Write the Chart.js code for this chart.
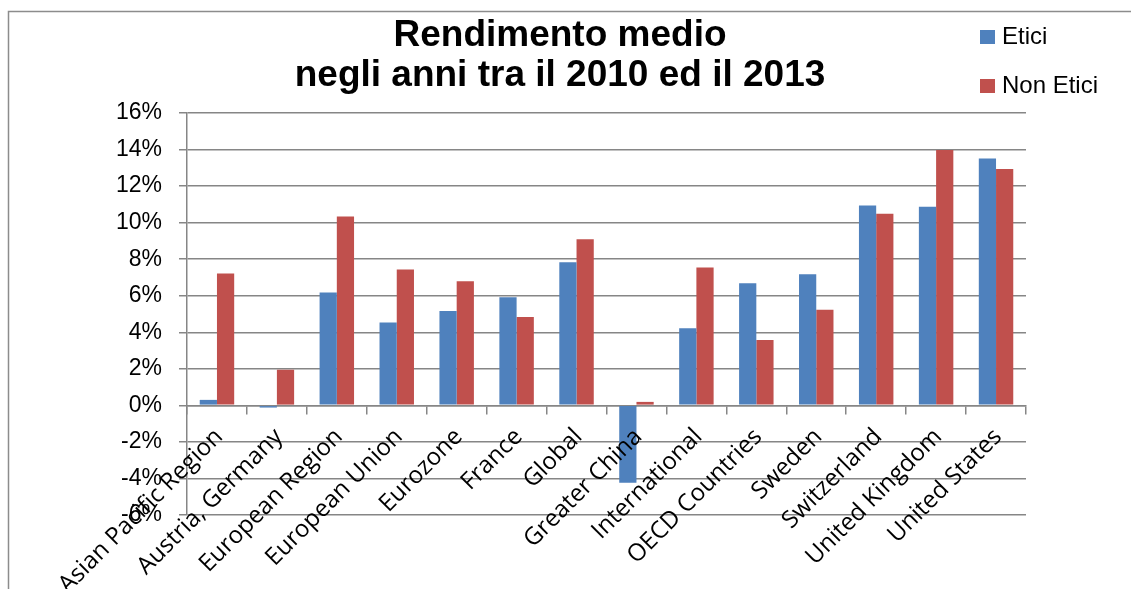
<!DOCTYPE html>
<html>
<head>
<meta charset="utf-8">
<script src="https://cdn.jsdelivr.net/npm/chart.js@4/dist/chart.umd.min.js"></script>
<style>
  html, body { margin: 0; padding: 0; background: #fff; }
  canvas { display: block; }
</style>
</head>
<body>
<canvas id="chart" width="1131" height="589"></canvas>
<script>
// Average yearly return 2010-2013, ethical vs non-ethical funds (%)
const categories = [
  'Asian Pacific Region', 'Austria, Germany', 'European Region', 'European Union',
  'Eurozone', 'France', 'Global', 'Greater China', 'International',
  'OECD Countries', 'Sweden', 'Switzerland', 'United Kingdom', 'United States'
];
const etici    = [0.30, -0.12, 6.18, 4.53, 5.17, 5.91, 7.83, -4.24, 4.22, 6.68, 7.17, 10.94, 10.87, 13.51];
const nonEtici = [7.21, 1.95, 10.34, 7.44, 6.79, 4.84, 9.09, 0.19, 7.55, 3.58, 5.23, 10.49, 13.97, 12.94];
const yTicks = [-6, -4, -2, 0, 2, 4, 6, 8, 10, 12, 14, 16];
const titleLines = ['Rendimento medio', 'negli anni tra il 2010 ed il 2013'];
const seriesNames = ['Etici', 'Non Etici'];
const seriesColors = ['#4F81BD', '#C0504D'];

const FONT = '"Liberation Sans", Arial, sans-serif';
const GRID = '#868686';

// White page with the thin grey frame around the chart
const framePlugin = {
  id: 'frame',
  beforeDraw(chart) {
    const ctx = chart.ctx;
    ctx.save();
    ctx.fillStyle = '#fff';
    ctx.fillRect(0, 0, chart.width, chart.height);
    ctx.strokeStyle = '#8c8c8c';
    ctx.lineWidth = 1.5;
    ctx.beginPath();
    ctx.moveTo(8.5, chart.height + 2);
    ctx.lineTo(8.5, 11.5);
    ctx.lineTo(chart.width + 2, 11.5);
    ctx.stroke();
    ctx.restore();
  }
};

// Category names, slanted at 45 degrees under the zero line
const categoryLabels = {
  id: 'categoryLabels',
  afterDraw(chart) {
    const ctx = chart.ctx;
    const x = chart.scales.x;
    ctx.save();
    ctx.font = '24px "Open Sans", sans-serif';
    ctx.fillStyle = '#000';
    ctx.textAlign = 'right';
    ctx.textBaseline = 'middle';
    chart.data.labels.forEach((name, i) => {
      const px = x.getPixelForValue(i);
      ctx.save();
      ctx.translate(px + 2, 433);
      ctx.rotate(-Math.PI / 4);
      ctx.fillText(name, 0, 0);
      ctx.restore();
    });
    ctx.restore();
  }
};

// Legend block in the top-right corner
const sideLegend = {
  id: 'sideLegend',
  afterDraw(chart) {
    const ctx = chart.ctx;
    ctx.save();
    ctx.font = '24px ' + FONT;
    ctx.textAlign = 'left';
    ctx.textBaseline = 'middle';
    chart.data.datasets.forEach((ds, i) => {
      const cy = 37 + i * 49;
      ctx.fillStyle = ds.backgroundColor;
      ctx.fillRect(980, cy - 7, 15, 14);
      ctx.fillStyle = '#000';
      ctx.fillText(ds.label, 1002, cy);
    });
    ctx.restore();
  }
};

new Chart(document.getElementById('chart'), {
  type: 'bar',
  data: {
    labels: categories,
    datasets: [
      { label: seriesNames[0], data: etici, backgroundColor: seriesColors[0] },
      { label: seriesNames[1], data: nonEtici, backgroundColor: seriesColors[1] }
    ]
  },
  options: {
    responsive: false,
    animation: false,
    events: [],
    categoryPercentage: 0.575,
    barPercentage: 1.0,
    layout: { padding: { top: 0, left: 0, right: 11, bottom: 74 } },
    scales: {
      x: {
        position: { y: 0 },
        ticks: { display: false },
        grid: { drawOnChartArea: false, offset: true, color: GRID, lineWidth: 1.5, tickLength: 8 },
        border: { color: GRID, width: 1.5 }
      },
      y: {
        min: -6,
        max: 16,
        afterBuildTicks(scale) { scale.ticks = yTicks.map(v => ({ value: v })); },
        afterFit(scale) { scale.width = 187; },
        ticks: {
          callback: v => v + '%',
          color: '#000',
          font: { family: FONT, size: 23 },
          padding: 17
        },
        grid: { color: GRID, lineWidth: 1.5, tickLength: 8 },
        border: { color: GRID, width: 1.5 }
      },
      spacer: {
        type: 'linear',
        position: 'right',
        display: true,
        grid: { display: false },
        ticks: { display: false },
        border: { display: false },
        afterFit(scale) { scale.width = 94; }
      }
    },
    plugins: {
      legend: { display: false },
      tooltip: { enabled: false },
      title: {
        display: true,
        text: titleLines,
        color: '#000',
        font: { family: FONT, size: 37, weight: 'bold', lineHeight: 40 / 37 },
        padding: { top: 15.5, bottom: 17.5 }
      }
    }
  },
  plugins: [framePlugin, categoryLabels, sideLegend]
});
</script>
</body>
</html>
